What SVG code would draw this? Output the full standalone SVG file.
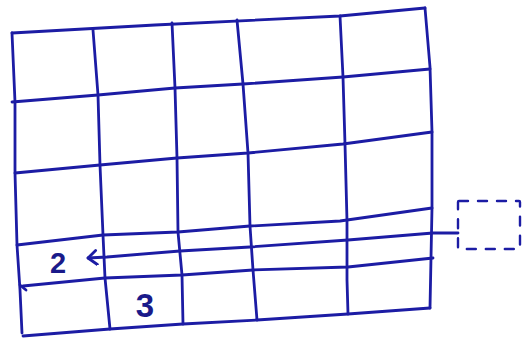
<svg xmlns="http://www.w3.org/2000/svg" width="532" height="349" viewBox="0 0 532 349">
<style>
.ln{fill:none;stroke:#1c1ca4;stroke-width:2.8;stroke-linecap:round;stroke-linejoin:round}
.ds{fill:none;stroke:#1c1ca4;stroke-width:2.4;stroke-linecap:round;stroke-dasharray:9 10}
.lb{font-family:"Liberation Sans",Arial,sans-serif;font-weight:bold;fill:#1a1a8a}
</style>
<defs>
<marker id="chev" markerWidth="16" markerHeight="18" refX="12" refY="8" orient="auto" markerUnits="userSpaceOnUse">
<path d="M3,1 L12,8 L4,15" fill="none" stroke="#1c1ca4" stroke-width="2.8" stroke-linecap="round" stroke-linejoin="round"/>
</marker>
</defs>
<rect width="532" height="349" fill="#ffffff"/>
<g id="grid">
<polyline class="ln" points="12,33 155,25 340,16 425,8"/>
<polyline class="ln" points="425,8 430,67 432,132 432,208 430,308"/>
<polyline class="ln" points="12,33 15,102 15,173 17,245 20,290 22,333"/>
<polyline class="ln" points="23,336 110,329 183,324 257,320 348,314 430,308"/>
<polyline class="ln" points="12,102 98,95 175,88 243,84 343,77 430,69"/>
<polyline class="ln" points="15,173 100,165 177,158 248,153 343,144 432,132"/>
<polyline class="ln" points="17,245 103,235 178,232 250,226 340,221 432,208"/>
<polyline class="ln" points="23,286 105,278 182,275 253,270 348,267 433,258"/>
<path class="ln" d="M20,285 L26,290"/>
<polyline class="ln" points="93,30 98,95 100,165 103,235 105,278 110,329"/>
<polyline class="ln" points="172,23 175,88 177,158 178,232 182,275 183,324"/>
<polyline class="ln" points="237,20 243,84 248,153 250,226 253,270 257,320"/>
<polyline class="ln" points="340,16 343,77 345,144 347,221 347,280 348,314"/>
</g>
<g id="box">
<rect class="ds" x="458" y="201" width="62" height="48" rx="1"/>
</g>
<g id="labels">
<text class="lb" x="58" y="273" font-size="29" text-anchor="middle">2</text>
<text class="lb" x="145" y="317" font-size="33" text-anchor="middle">3</text>
</g>
<g id="connectors">
<polyline class="ln" points="458,233 433,233 348,240 250,247 180,251 107,257 88,258" marker-end="url(#chev)"/>
</g>
</svg>
